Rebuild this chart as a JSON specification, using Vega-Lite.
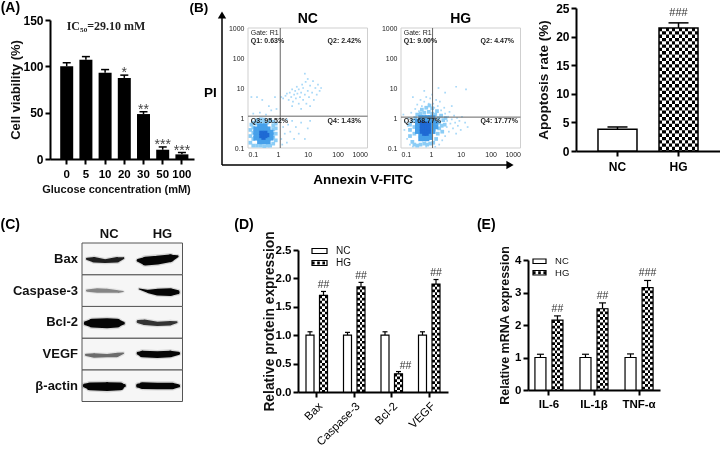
{"$schema":"https://vega.github.io/schema/vega-lite/v6.json","width":720,"height":449,"padding":0,"autosize":{"type":"none","contains":"padding"},"background":"white",
"config":{"view":{"stroke":null},"font":"Liberation Sans","text":{"font":"Liberation Sans"},"axis":{"grid":false,"domainColor":"black","domainWidth":2,"tickColor":"black","tickWidth":2,"tickSize":5,"labelColor":"black","labelFont":"Liberation Sans","labelFontWeight":"bold","labelFontSize":11.5,"labelPadding":2,"titleFont":"Liberation Sans","titleFontWeight":"bold","titleFontSize":14,"titleColor":"#111","labelOverlap":false}},
"resolve":{"scale":{"x":"independent","y":"independent","xOffset":"independent","color":"independent","size":"independent"},"axis":{"x":"independent","y":"independent"}},
"layer":[
{"data":{"values":[{"c":"0","v":100,"hi":104},{"c":"5","v":107,"hi":110.5},{"c":"10","v":93,"hi":96.5},{"c":"20","v":87.5,"hi":90.5,"s":"*"},{"c":"30","v":48.5,"hi":51,"s":"**"},{"c":"50","v":10,"hi":13,"s":"***"},{"c":"100","v":5,"hi":7,"s":"***"}]},
"encoding":{"x":{"field":"c","type":"nominal","sort":null,"scale":{"domain":["0","5","10","20","30","50","100"],"range":[50,194],"paddingInner":0.3,"paddingOuter":0.4,"align":0.65},"axis":{"orient":"bottom","offset":-290,"labelAngle":0,"labelPadding":4,"title":"Glucose concentration (mM)","titleFontSize":11,"titlePadding":4,"titleX":116}},"y":{"field":"v","type":"quantitative","scale":{"domain":[0,150],"range":[159,20],"nice":false},"axis":{"orient":"left","offset":-50,"values":[0,50,100,150],"title":"Cell viability (%)","titleFontSize":13,"titlePadding":0,"labelFontSize":12}}},
"layer":[
{"mark":{"type":"bar","size":13,"fill":"black"}},
{"mark":{"type":"rule","stroke":"black","strokeWidth":1.5},"encoding":{"y":{"field":"hi","type":"quantitative"},"y2":{"field":"v"}}},
{"mark":{"type":"tick","orient":"horizontal","size":8,"thickness":1.5,"color":"black","opacity":1},"encoding":{"y":{"field":"hi","type":"quantitative"}}},
{"mark":{"type":"text","fontSize":14,"fill":"#444","baseline":"alphabetic","dy":2},"encoding":{"y":{"field":"hi","type":"quantitative"},"text":{"field":"s"}},"transform":[{"filter":"datum.s"}]},
{"data":{"values":[{"c":"0","v":150,"t":"IC₅₀=29.10 mM"}]},"mark":{"type":"text","font":"Liberation Serif","fontWeight":"bold","fontSize":12,"align":"left","dy":6,"fill":"#222"},"encoding":{"text":{"field":"t"}}},
{"data":{"values":[{"c":"0","v":150,"t":"(A)"}]},"mark":{"type":"text","fontWeight":"bold","fontSize":14,"align":"left","dx":-66,"dy":-12,"fill":"black"},"encoding":{"text":{"field":"t"}}}
]},
{"data":{"values":[{"a":0,"b":0,"a2":1,"b2":0,"k":"h"},{"a":0,"b":0,"a2":0,"b2":1,"k":"v"}]},
"encoding":{"x":{"field":"a","type":"quantitative","scale":{"domain":[0,1],"range":[222,510],"nice":false},"axis":null},"y":{"field":"b","type":"quantitative","scale":{"domain":[0,1],"range":[165,15],"nice":false},"axis":null}},
"layer":[
{"mark":{"type":"rule","stroke":"black","strokeWidth":1.5},"encoding":{"x2":{"field":"a2"},"y2":{"field":"b2"}}},
{"data":{"values":[{"a":1,"b":0,"sh":"triangle-right"},{"a":0,"b":1,"sh":"triangle-up"}]},"mark":{"type":"point","filled":true,"fill":"black","opacity":1,"size":70},"encoding":{"shape":{"field":"sh","type":"nominal","scale":null}}},
{"data":{"values":[{"a":0.49,"b":-0.1,"t":"Annexin V-FITC"},{"a":-0.04,"b":0.48,"t":"PI"},{"a":-0.08,"b":1.05,"t":"(B)"}]},"mark":{"type":"text","fontWeight":"bold","fontSize":13.5,"fill":"black"},"encoding":{"text":{"field":"t"}}}
]},
{"data":{"values":[{"x":0.2,"y":5},{"x":0.13,"y":5},{"x":0.3,"y":4},{"x":0.5,"y":2.5},{"x":0.6,"y":1.8},{"x":0.8,"y":5},{"x":0.25,"y":1.5},{"x":0.15,"y":1.4},{"x":0.4,"y":1.3},{"x":0.9,"y":2},{"x":1.3,"y":5},{"x":1.5,"y":4.5},{"x":1.8,"y":5.5},{"x":2,"y":6.5},{"x":2.3,"y":4},{"x":2.5,"y":7},{"x":2.8,"y":5},{"x":3,"y":9},{"x":3.2,"y":3.5},{"x":3.5,"y":6},{"x":3.8,"y":8},{"x":4,"y":4.5},{"x":4.3,"y":11},{"x":4.5,"y":6.5},{"x":5,"y":3},{"x":5,"y":9},{"x":5.5,"y":5},{"x":6,"y":7},{"x":6.5,"y":13},{"x":7,"y":4},{"x":7,"y":10},{"x":8,"y":6},{"x":8.5,"y":16},{"x":9,"y":3},{"x":10,"y":8},{"x":10,"y":20},{"x":11,"y":5},{"x":12,"y":12},{"x":14,"y":7},{"x":15,"y":17},{"x":16,"y":4},{"x":18,"y":10},{"x":20,"y":6},{"x":22,"y":13},{"x":25,"y":8},{"x":28,"y":10},{"x":8,"y":30},{"x":3,"y":2.5},{"x":6,"y":2},{"x":12,"y":2.5},{"x":1.3,"y":0.2},{"x":1.5,"y":0.5},{"x":1.7,"y":0.3},{"x":2,"y":0.15},{"x":2.2,"y":0.6},{"x":2.6,"y":0.35},{"x":3,"y":0.8},{"x":3.5,"y":0.2},{"x":4,"y":0.5},{"x":5,"y":0.3},{"x":6,"y":0.7},{"x":8,"y":0.2},{"x":10,"y":0.45},{"x":12,"y":0.8},{"x":1.2,"y":0.8},{"x":1.4,"y":0.13},{"x":2,"y":0.9}]},
"encoding":{"x":{"field":"x","type":"quantitative","scale":{"type":"log","domain":[0.1,1000],"range":[248,367.5],"nice":false},"axis":{"orient":"bottom","offset":-301,"values":[0.1,1,10,100,1000],"labelExpr":"''+datum.value","domain":false,"ticks":false,"labelFontSize":7,"labelFontWeight":"normal","labelColor":"#222","labelPadding":2,"title":null}},"y":{"field":"y","type":"quantitative","scale":{"type":"log","domain":[0.1,1000],"range":[148,28],"nice":false},"axis":{"orient":"left","offset":-248,"values":[0.1,1,10,100,1000],"labelExpr":"''+datum.value","domain":false,"ticks":false,"labelFontSize":7,"labelFontWeight":"normal","labelColor":"#222","labelPadding":4,"title":null}}},
"layer":[
{"data":{"values":[{"x":0.1,"x2":1000,"y":0.1,"y2":1000}]},"mark":{"type":"rect","fill":"white","stroke":"#cfcfcf","strokeWidth":1},"encoding":{"x2":{"field":"x2"},"y2":{"field":"y2"}}},
{"mark":{"type":"point","filled":true,"shape":"square","size":3,"color":"#a9d9f8","opacity":1}},
{"data":{"values":[{"x":0.12,"y":0.15},{"x":0.12,"y":0.25},{"x":0.12,"y":0.4},{"x":0.13,"y":0.6},{"x":0.15,"y":0.12},{"x":0.15,"y":0.2},{"x":0.15,"y":0.32},{"x":0.15,"y":0.48},{"x":0.15,"y":0.7},{"x":0.2,"y":0.12},{"x":0.2,"y":0.65},{"x":0.2,"y":0.85},{"x":0.27,"y":0.12},{"x":0.27,"y":0.7},{"x":0.27,"y":0.9},{"x":0.35,"y":0.115},{"x":0.35,"y":0.7},{"x":0.35,"y":0.88},{"x":0.45,"y":0.12},{"x":0.45,"y":0.7},{"x":0.55,"y":0.12},{"x":0.55,"y":0.85},{"x":0.7,"y":0.14},{"x":0.7,"y":0.22},{"x":0.7,"y":0.3},{"x":0.7,"y":0.42},{"x":0.7,"y":0.55},{"x":0.7,"y":0.75},{"x":0.85,"y":0.18},{"x":0.85,"y":0.3},{"x":0.85,"y":0.45},{"x":0.85,"y":0.65}]},"mark":{"type":"point","filled":true,"shape":"square","size":14,"color":"#8ccdf6","opacity":1}},
{"data":{"values":[{"x":0.18,"y":0.21},{"x":0.18,"y":0.27},{"x":0.18,"y":0.34},{"x":0.18,"y":0.44},{"x":0.24,"y":0.16},{"x":0.24,"y":0.21},{"x":0.24,"y":0.27},{"x":0.24,"y":0.34},{"x":0.24,"y":0.44},{"x":0.24,"y":0.55},{"x":0.3,"y":0.16},{"x":0.3,"y":0.21},{"x":0.3,"y":0.27},{"x":0.3,"y":0.34},{"x":0.3,"y":0.44},{"x":0.3,"y":0.55},{"x":0.38,"y":0.16},{"x":0.38,"y":0.21},{"x":0.38,"y":0.27},{"x":0.38,"y":0.34},{"x":0.38,"y":0.44},{"x":0.38,"y":0.55},{"x":0.48,"y":0.16},{"x":0.48,"y":0.21},{"x":0.48,"y":0.27},{"x":0.48,"y":0.34},{"x":0.48,"y":0.44},{"x":0.6,"y":0.21},{"x":0.6,"y":0.27},{"x":0.6,"y":0.34}]},"mark":{"type":"point","filled":true,"shape":"square","size":20,"color":"#46a0ea","opacity":1}},
{"data":{"values":[{"x":0.28,"y":0.25},{"x":0.33,"y":0.22},{"x":0.33,"y":0.29},{"x":0.38,"y":0.25},{"x":0.38,"y":0.32},{"x":0.44,"y":0.27},{"x":0.28,"y":0.32}]},"mark":{"type":"point","filled":true,"shape":"square","size":18,"color":"#1f6ad4","opacity":1}},
{"data":{"values":[{"x":1.2,"x2":1.2,"y":0.1,"y2":1000},{"x":0.1,"x2":1000,"y":1.15,"y2":1.15}]},"mark":{"type":"rule","stroke":"#666","strokeWidth":1},"encoding":{"x2":{"field":"x2"},"y2":{"field":"y2"}}},
{"data":{"values":[{"x":0.123,"y":700,"t":"Gate: R1"}]},"mark":{"type":"text","fontSize":7,"align":"left","fill":"#222"},"encoding":{"text":{"field":"t"}}},
{"data":{"values":[{"x":0.123,"y":380,"t":"Q1: 0.63%"},{"x":46,"y":380,"t":"Q2: 2.42%"},{"x":0.123,"y":0.81,"t":"Q3: 95.52%"},{"x":46,"y":0.81,"t":"Q4: 1.43%"}]},"mark":{"type":"text","fontSize":7,"fontWeight":"bold","align":"left","fill":"#222"},"encoding":{"text":{"field":"t"}}},
{"data":{"values":[{"x":10,"y":2000,"t":"NC"}]},"mark":{"type":"text","fontSize":14,"fontWeight":"bold","fill":"black"},"encoding":{"text":{"field":"t"}}}
]},
{"data":{"values":[{"x":0.12,"y":1.3},{"x":0.14,"y":0.75},{"x":0.16,"y":0.2},{"x":0.13,"y":0.4},{"x":0.18,"y":1},{"x":0.2,"y":0.13},{"x":0.22,"y":1.5},{"x":0.17,"y":0.55},{"x":0.3,"y":2},{"x":0.25,"y":0.11},{"x":0.35,"y":2.8},{"x":0.4,"y":1.7},{"x":0.45,"y":4},{"x":0.5,"y":2.5},{"x":0.6,"y":3.5},{"x":0.7,"y":5},{"x":0.7,"y":0.11},{"x":0.85,"y":3},{"x":0.95,"y":4.5},{"x":1.1,"y":6},{"x":1.2,"y":3},{"x":1.3,"y":2.2},{"x":1.4,"y":0.11},{"x":1.5,"y":4},{"x":1.7,"y":2.5},{"x":1.9,"y":0.13},{"x":2,"y":3.5},{"x":2.2,"y":1.8},{"x":2.4,"y":0.18},{"x":2.8,"y":2.2},{"x":3,"y":0.25},{"x":3,"y":1.4},{"x":3.4,"y":0.5},{"x":3.5,"y":0.8},{"x":3.8,"y":1.1},{"x":4,"y":0.35},{"x":4.2,"y":1.6},{"x":4.5,"y":0.65},{"x":5,"y":0.9},{"x":5,"y":2.5},{"x":5.5,"y":0.45},{"x":6,"y":1.2},{"x":6.5,"y":0.7},{"x":7,"y":0.3},{"x":7.5,"y":1},{"x":8,"y":0.55},{"x":9,"y":0.8},{"x":10,"y":0.4},{"x":11,"y":1.1},{"x":14,"y":0.7},{"x":17,"y":0.5},{"x":15,"y":9},{"x":7,"y":11},{"x":3,"y":7},{"x":0.6,"y":8},{"x":1.8,"y":10},{"x":0.25,"y":5}]},
"encoding":{"x":{"field":"x","type":"quantitative","scale":{"type":"log","domain":[0.1,1000],"range":[401,520.5],"nice":false},"axis":{"orient":"bottom","offset":-301,"values":[0.1,1,10,100,1000],"labelExpr":"''+datum.value","domain":false,"ticks":false,"labelFontSize":7,"labelFontWeight":"normal","labelColor":"#222","labelPadding":2,"title":null}},"y":{"field":"y","type":"quantitative","scale":{"type":"log","domain":[0.1,1000],"range":[148,28],"nice":false},"axis":{"orient":"left","offset":-401,"values":[0.1,1,10,100,1000],"labelExpr":"''+datum.value","domain":false,"ticks":false,"labelFontSize":7,"labelFontWeight":"normal","labelColor":"#222","labelPadding":4,"title":null}}},
"layer":[
{"data":{"values":[{"x":0.1,"x2":1000,"y":0.1,"y2":1000}]},"mark":{"type":"rect","fill":"white","stroke":"#cfcfcf","strokeWidth":1},"encoding":{"x2":{"field":"x2"},"y2":{"field":"y2"}}},
{"mark":{"type":"point","filled":true,"shape":"square","size":3,"color":"#a9d9f8","opacity":1}},
{"data":{"values":[{"x":0.2,"y":0.25},{"x":0.2,"y":0.4},{"x":0.2,"y":0.6},{"x":0.24,"y":0.16},{"x":0.25,"y":0.8},{"x":0.28,"y":0.13},{"x":0.28,"y":0.3},{"x":0.28,"y":0.5},{"x":0.3,"y":1},{"x":0.35,"y":0.12},{"x":0.35,"y":1.3},{"x":0.45,"y":0.13},{"x":0.45,"y":1.4},{"x":0.5,"y":1.9},{"x":0.6,"y":0.14},{"x":0.6,"y":1.5},{"x":0.7,"y":2.2},{"x":0.75,"y":0.13},{"x":0.85,"y":1.6},{"x":0.9,"y":2.6},{"x":0.95,"y":0.14},{"x":1.1,"y":1.4},{"x":1.1,"y":2.1},{"x":1.2,"y":0.15},{"x":1.4,"y":1.3},{"x":1.5,"y":0.2},{"x":1.6,"y":1.7},{"x":1.7,"y":0.3},{"x":1.8,"y":1},{"x":1.9,"y":0.45},{"x":1.9,"y":0.7},{"x":2.2,"y":1.2},{"x":2.3,"y":0.55},{"x":2.4,"y":0.35},{"x":2.6,"y":0.85},{"x":2.9,"y":0.6},{"x":3.1,"y":1}]},"mark":{"type":"point","filled":true,"shape":"square","size":14,"color":"#8ccdf6","opacity":1}},
{"data":{"values":[{"x":0.35,"y":0.35},{"x":0.35,"y":0.45},{"x":0.35,"y":0.6},{"x":0.35,"y":0.8},{"x":0.45,"y":0.2},{"x":0.45,"y":0.27},{"x":0.45,"y":0.35},{"x":0.45,"y":0.45},{"x":0.45,"y":0.6},{"x":0.45,"y":0.8},{"x":0.45,"y":1.05},{"x":0.6,"y":0.2},{"x":0.6,"y":0.27},{"x":0.6,"y":0.35},{"x":0.6,"y":0.45},{"x":0.6,"y":0.6},{"x":0.6,"y":0.8},{"x":0.6,"y":1.05},{"x":0.75,"y":0.2},{"x":0.75,"y":0.27},{"x":0.75,"y":0.35},{"x":0.75,"y":0.45},{"x":0.75,"y":0.6},{"x":0.75,"y":0.8},{"x":0.75,"y":1.05},{"x":0.95,"y":0.22},{"x":0.95,"y":0.27},{"x":0.95,"y":0.35},{"x":0.95,"y":0.45},{"x":0.95,"y":0.6},{"x":0.95,"y":0.8},{"x":0.95,"y":1.05},{"x":1.2,"y":0.35},{"x":1.2,"y":0.45},{"x":1.2,"y":0.6},{"x":1.2,"y":0.8},{"x":1.2,"y":1.05},{"x":1.5,"y":0.5},{"x":1.5,"y":0.7}]},"mark":{"type":"point","filled":true,"shape":"square","size":20,"color":"#46a0ea","opacity":1}},
{"data":{"values":[{"x":0.5,"y":0.35},{"x":0.5,"y":0.45},{"x":0.5,"y":0.55},{"x":0.5,"y":0.7},{"x":0.6,"y":0.3},{"x":0.6,"y":0.4},{"x":0.6,"y":0.5},{"x":0.6,"y":0.65},{"x":0.72,"y":0.3},{"x":0.72,"y":0.4},{"x":0.72,"y":0.5},{"x":0.72,"y":0.65},{"x":0.85,"y":0.35},{"x":0.85,"y":0.45},{"x":0.85,"y":0.6}]},"mark":{"type":"point","filled":true,"shape":"square","size":18,"color":"#1f6ad4","opacity":1}},
{"data":{"values":[{"x":1.14,"x2":1.14,"y":0.1,"y2":1000},{"x":0.1,"x2":1000,"y":1.07,"y2":1.07}]},"mark":{"type":"rule","stroke":"#666","strokeWidth":1},"encoding":{"x2":{"field":"x2"},"y2":{"field":"y2"}}},
{"data":{"values":[{"x":0.123,"y":700,"t":"Gate: R1"}]},"mark":{"type":"text","fontSize":7,"align":"left","fill":"#222"},"encoding":{"text":{"field":"t"}}},
{"data":{"values":[{"x":0.123,"y":380,"t":"Q1: 9.00%"},{"x":46,"y":380,"t":"Q2: 4.47%"},{"x":0.123,"y":0.78,"t":"Q3: 68.77%"},{"x":46,"y":0.78,"t":"Q4: 17.77%"}]},"mark":{"type":"text","fontSize":7,"fontWeight":"bold","align":"left","fill":"#222"},"encoding":{"text":{"field":"t"}}},
{"data":{"values":[{"x":10,"y":2000,"t":"HG"}]},"mark":{"type":"text","fontSize":14,"fontWeight":"bold","fill":"black"},"encoding":{"text":{"field":"t"}}}
]},
{"data":{"values":[{"g":"NC","v":3.8,"hi":4.2},{"g":"HG","v":21.5,"hi":22.4,"h":"###"}]},
"encoding":{"x":{"field":"g","type":"nominal","sort":null,"scale":{"domain":["NC","HG"],"range":[576,720],"paddingInner":0.34,"paddingOuter":0.35},"axis":{"orient":"bottom","offset":-298,"labelAngle":0,"title":null,"labelFontSize":12,"labelPadding":5}},"y":{"field":"v","type":"quantitative","scale":{"domain":[0,25],"range":[151,8],"nice":false},"axis":{"orient":"left","offset":-576,"values":[0,5,10,15,20,25],"title":"Apoptosis rate (%)","titleFontSize":13.5,"titlePadding":5,"labelFontSize":12}}},
"layer":[
{"mark":{"type":"rule","stroke":"black","strokeWidth":1.5},"encoding":{"y":{"field":"hi","type":"quantitative"},"y2":{"field":"v"}}},
{"mark":{"type":"tick","orient":"horizontal","size":20,"thickness":1.5,"color":"black","opacity":1},"encoding":{"y":{"field":"hi","type":"quantitative"}}},
{"mark":{"type":"bar","size":39,"fill":"white","stroke":null}},
{"transform":[{"filter":"datum.g=='HG'"}],"mark":{"type":"rule","stroke":"black","strokeWidth":39,"strokeDash":[3.3,3.3],"strokeCap":"butt"},"encoding":{"y2":{"datum":0}}},
{"transform":[{"filter":"datum.g=='HG'"}],"mark":{"type":"bar","size":39,"stroke":null,"blend":"difference","fill":{"gradient":"linear","x1":0,"y1":0,"x2":1,"y2":0,"stops":[{"offset":0,"color":"#000"},{"offset":0.0833,"color":"#000"},{"offset":0.0833,"color":"#fff"},{"offset":0.1667,"color":"#fff"},{"offset":0.1667,"color":"#000"},{"offset":0.25,"color":"#000"},{"offset":0.25,"color":"#fff"},{"offset":0.3333,"color":"#fff"},{"offset":0.3333,"color":"#000"},{"offset":0.4167,"color":"#000"},{"offset":0.4167,"color":"#fff"},{"offset":0.5,"color":"#fff"},{"offset":0.5,"color":"#000"},{"offset":0.5833,"color":"#000"},{"offset":0.5833,"color":"#fff"},{"offset":0.6667,"color":"#fff"},{"offset":0.6667,"color":"#000"},{"offset":0.75,"color":"#000"},{"offset":0.75,"color":"#fff"},{"offset":0.8333,"color":"#fff"},{"offset":0.8333,"color":"#000"},{"offset":0.9167,"color":"#000"},{"offset":0.9167,"color":"#fff"},{"offset":1,"color":"#fff"}]}}},
{"mark":{"type":"bar","size":39,"fill":"transparent","stroke":"black","strokeWidth":1.5}},
{"transform":[{"filter":"datum.h"}],"mark":{"type":"text","fontSize":11,"fill":"#333","dy":-9.5},"encoding":{"y":{"field":"hi","type":"quantitative"},"text":{"field":"h"}}}
]},
{"data":{"values":[{"a":0,"a2":100,"b":0,"b2":1,"t":"β-actin"},{"a":0,"a2":100,"b":1,"b2":2,"t":"VEGF"},{"a":0,"a2":100,"b":2,"b2":3,"t":"Bcl-2"},{"a":0,"a2":100,"b":3,"b2":4,"t":"Caspase-3"},{"a":0,"a2":100,"b":4,"b2":5,"t":"Bax"}]},
"encoding":{"x":{"field":"a","type":"quantitative","scale":{"domain":[0,100],"range":[82,182.5],"nice":false},"axis":null},"y":{"field":"b","type":"quantitative","scale":{"domain":[0,5],"range":[401.5,243],"nice":false},"axis":null}},
"layer":[
{"mark":{"type":"rect","fill":"#f6f6f6","stroke":"#555","strokeWidth":1},"encoding":{"x2":{"field":"a2"},"y2":{"field":"b2"}}},
{"data":{"values":[{"k":"a","a":5,"b":4.5,"w":2,"i":0.9},{"k":"a","a":12,"b":4.47,"w":5,"i":0.9},{"k":"a","a":23,"b":4.43,"w":3.5,"i":0.9},{"k":"a","a":35,"b":4.47,"w":5,"i":0.9},{"k":"a","a":41,"b":4.52,"w":2,"i":0.9},
{"k":"b","a":56,"b":4.45,"w":3,"i":1},{"k":"b","a":63,"b":4.43,"w":8,"i":1},{"k":"b","a":75,"b":4.46,"w":8,"i":1},{"k":"b","a":88,"b":4.52,"w":7,"i":1},{"k":"b","a":95,"b":4.58,"w":2,"i":1},
{"k":"c","a":5,"b":3.5,"w":2,"i":0.45},{"k":"c","a":15,"b":3.5,"w":4,"i":0.45},{"k":"c","a":25,"b":3.5,"w":3.5,"i":0.45},{"k":"c","a":36,"b":3.47,"w":2.5,"i":0.45},{"k":"c","a":41,"b":3.47,"w":1,"i":0.45},
{"k":"d","a":57,"b":3.55,"w":1,"i":1},{"k":"d","a":66,"b":3.47,"w":3,"i":1},{"k":"d","a":75,"b":3.45,"w":6,"i":1},{"k":"d","a":88,"b":3.45,"w":7,"i":1},{"k":"d","a":95,"b":3.45,"w":4,"i":1},
{"k":"e","a":4,"b":2.47,"w":4,"i":1},{"k":"e","a":10,"b":2.47,"w":8,"i":1},{"k":"e","a":25,"b":2.47,"w":9,"i":1},{"k":"e","a":35,"b":2.47,"w":8,"i":1},{"k":"e","a":41,"b":2.47,"w":3,"i":1},
{"k":"f","a":56,"b":2.52,"w":3,"i":0.8},{"k":"f","a":62,"b":2.5,"w":5,"i":0.8},{"k":"f","a":75,"b":2.45,"w":4,"i":0.8},{"k":"f","a":88,"b":2.47,"w":4,"i":0.8},{"k":"f","a":94,"b":2.5,"w":2,"i":0.8},
{"k":"g","a":4,"b":1.47,"w":2,"i":0.55},{"k":"g","a":12,"b":1.45,"w":4,"i":0.55},{"k":"g","a":25,"b":1.45,"w":3,"i":0.55},{"k":"g","a":35,"b":1.47,"w":4,"i":0.55},{"k":"g","a":41,"b":1.52,"w":1.5,"i":0.55},
{"k":"h","a":56,"b":1.52,"w":3,"i":1},{"k":"h","a":60,"b":1.5,"w":6,"i":1},{"k":"h","a":75,"b":1.48,"w":6,"i":1},{"k":"h","a":88,"b":1.5,"w":6,"i":1},{"k":"h","a":96,"b":1.52,"w":3,"i":1},
{"k":"m","a":3,"b":0.5,"w":4,"i":1},{"k":"m","a":8,"b":0.48,"w":7,"i":1},{"k":"m","a":25,"b":0.47,"w":8,"i":1},{"k":"m","a":38,"b":0.48,"w":7,"i":1},{"k":"m","a":42,"b":0.5,"w":3,"i":1},
{"k":"n","a":56,"b":0.5,"w":4,"i":1},{"k":"n","a":60,"b":0.5,"w":6,"i":1},{"k":"n","a":75,"b":0.49,"w":6,"i":1},{"k":"n","a":90,"b":0.49,"w":6,"i":1},{"k":"n","a":96,"b":0.49,"w":3,"i":1}]},
"resolve":{"scale":{"size":"independent"}},
"encoding":{"detail":{"field":"k"},"order":{"field":"a","type":"quantitative"},"color":{"field":"i","type":"quantitative","legend":null,"scale":{"domain":[0,1],"range":["#ffffff","#050505"]}}},
"layer":[
{"mark":{"type":"trail","opacity":0.14},"encoding":{"size":{"field":"w","type":"quantitative","legend":null,"scale":{"domain":[0,10],"range":[2,14]}}}},
{"mark":{"type":"trail"},"encoding":{"size":{"field":"w","type":"quantitative","legend":null,"scale":{"domain":[0,10],"range":[0,11]}}}}
]},
{"data":{"values":[{"a":-4,"b":4.5,"t":"Bax"},{"a":-4,"b":3.5,"t":"Caspase-3"},{"a":-4,"b":2.5,"t":"Bcl-2"},{"a":-4,"b":1.5,"t":"VEGF"},{"a":-4,"b":0.5,"t":"β-actin"}]},"mark":{"type":"text","fontSize":13,"fontWeight":"bold","align":"right","fill":"#111"},"encoding":{"text":{"field":"t"}}},
{"data":{"values":[{"a":27,"b":5.28,"t":"NC"},{"a":80,"b":5.28,"t":"HG"}]},"mark":{"type":"text","fontSize":13,"fontWeight":"bold","fill":"#111"},"encoding":{"text":{"field":"t"}}},
{"data":{"values":[{"a":-81,"b":5.57,"t":"(C)"}]},"mark":{"type":"text","fontSize":14,"fontWeight":"bold","align":"left","fill":"black"},"encoding":{"text":{"field":"t"}}}
]},
{"data":{"values":[{"g":"Bax","s":"NC","v":1,"hi":1.06},{"g":"Bax","s":"HG","v":1.7,"hi":1.77,"h":"##"},{"g":"Caspase-3","s":"NC","v":1,"hi":1.05},{"g":"Caspase-3","s":"HG","v":1.85,"hi":1.93,"h":"##"},{"g":"Bcl-2","s":"NC","v":1,"hi":1.06},{"g":"Bcl-2","s":"HG","v":0.32,"hi":0.36,"j":"##"},{"g":"VEGF","s":"NC","v":1,"hi":1.06},{"g":"VEGF","s":"HG","v":1.9,"hi":1.98,"h":"##"}]},
"encoding":{"x":{"field":"g","type":"nominal","sort":null,"scale":{"domain":["Bax","Caspase-3","Bcl-2","VEGF"],"range":[298,448],"paddingInner":0.28,"paddingOuter":0.14},"axis":{"orient":"bottom","offset":-57,"labelAngle":-45,"labelAlign":"right","labelBaseline":"top","labelFontSize":11.5,"labelFontWeight":"normal","title":null,"labelPadding":3}},"xOffset":{"field":"s","type":"nominal","sort":null,"scale":{"domain":["NC","HG"]}},"y":{"field":"v","type":"quantitative","scale":{"domain":[0,2.5],"range":[392,250],"nice":false},"axis":{"orient":"left","offset":-298,"values":[0,0.5,1,1.5,2,2.5],"format":".1f","title":"Relative protein expression","titleFontSize":13.8,"titlePadding":-1,"labelFontSize":11.5}}},
"layer":[
{"mark":{"type":"rule","stroke":"black","strokeWidth":1.2},"encoding":{"y":{"field":"hi","type":"quantitative"},"y2":{"field":"v"}}},
{"mark":{"type":"tick","orient":"horizontal","size":5,"thickness":1.2,"color":"black","opacity":1},"encoding":{"y":{"field":"hi","type":"quantitative"}}},
{"mark":{"type":"bar","size":8,"fill":"white","stroke":null}},
{"transform":[{"filter":"datum.s=='HG'"}],"mark":{"type":"rule","stroke":"black","strokeWidth":8,"strokeDash":[2.7,2.7],"strokeCap":"butt"},"encoding":{"y2":{"datum":0}}},
{"transform":[{"filter":"datum.s=='HG'"}],"mark":{"type":"bar","size":8,"stroke":null,"blend":"difference","fill":{"gradient":"linear","x1":0,"y1":0,"x2":1,"y2":0,"stops":[{"offset":0,"color":"#000"},{"offset":0.333,"color":"#000"},{"offset":0.333,"color":"#fff"},{"offset":0.667,"color":"#fff"},{"offset":0.667,"color":"#000"},{"offset":1,"color":"#000"}]}}},
{"mark":{"type":"bar","size":8,"fill":"transparent","stroke":"black","strokeWidth":1.2}},
{"transform":[{"filter":"datum.h"}],"mark":{"type":"text","fontSize":10.5,"fill":"#333","dy":-6.5},"encoding":{"y":{"field":"hi","type":"quantitative"},"text":{"field":"h"}}},
{"transform":[{"filter":"datum.j"}],"mark":{"type":"text","fontSize":10.5,"fill":"#333","dy":-5.5,"dx":7},"encoding":{"y":{"field":"hi","type":"quantitative"},"text":{"field":"j"}}},
{"data":{"values":[{"g":"Bax","v":2.5,"t":"(D)"}]},"mark":{"type":"text","fontSize":14,"fontWeight":"bold","align":"left","dx":-69,"dy":-25,"fill":"black"},"encoding":{"xOffset":{"value":0},"text":{"field":"t"}}}
]},
{"data":{"values":[{"s":"NC","a":0,"b":1},{"s":"HG","a":0,"b":1}]},
"encoding":{"x":{"field":"a","type":"quantitative","scale":{"domain":[0,1],"range":[312,327],"nice":false},"axis":null},"y":{"field":"s","type":"nominal","sort":null,"scale":{"domain":["NC","HG"],"range":[245,269]},"axis":null}},
"layer":[
{"mark":{"type":"bar","size":5,"fill":"white","stroke":"black","strokeWidth":1.2},"encoding":{"x2":{"field":"b"}}},
{"transform":[{"filter":"datum.s=='HG'"}],"mark":{"type":"rule","stroke":"black","strokeWidth":3,"strokeDash":[2.6,2.6],"strokeCap":"butt"},"encoding":{"x2":{"field":"b"}}},
{"data":{"values":[{"s":"NC","a":1.6},{"s":"HG","a":1.6}]},"mark":{"type":"text","fontSize":10,"align":"left","fill":"#111"},"encoding":{"text":{"field":"s"}}}
]},
{"data":{"values":[{"g":"IL-6","s":"NC","v":1,"hi":1.1},{"g":"IL-6","s":"HG","v":2.15,"hi":2.28,"h":"##"},{"g":"IL-1β","s":"NC","v":1,"hi":1.1},{"g":"IL-1β","s":"HG","v":2.5,"hi":2.68,"h":"##"},{"g":"TNF-α","s":"NC","v":1,"hi":1.11},{"g":"TNF-α","s":"HG","v":3.15,"hi":3.37,"h":"###"}]},
"encoding":{"x":{"field":"g","type":"nominal","sort":null,"scale":{"domain":["IL-6","IL-1β","TNF-α"],"range":[528,660],"paddingInner":0.244,"paddingOuter":0.087},"axis":{"orient":"bottom","offset":-59,"labelAngle":0,"title":null,"labelFontSize":11.5,"labelPadding":3}},"xOffset":{"field":"s","type":"nominal","sort":null,"scale":{"domain":["NC","HG"]}},"y":{"field":"v","type":"quantitative","scale":{"domain":[0,4],"range":[390,260],"nice":false},"axis":{"orient":"left","offset":-528,"values":[0,1,2,3,4],"title":"Relative mRNA expression","titleFontSize":12.5,"titlePadding":3,"labelFontSize":11.5}}},
"layer":[
{"mark":{"type":"rule","stroke":"black","strokeWidth":1.2},"encoding":{"y":{"field":"hi","type":"quantitative"},"y2":{"field":"v"}}},
{"mark":{"type":"tick","orient":"horizontal","size":7,"thickness":1.2,"color":"black","opacity":1},"encoding":{"y":{"field":"hi","type":"quantitative"}}},
{"mark":{"type":"bar","size":11,"fill":"white","stroke":null}},
{"transform":[{"filter":"datum.s=='HG'"}],"mark":{"type":"rule","stroke":"black","strokeWidth":11,"strokeDash":[2.75,2.75],"strokeCap":"butt"},"encoding":{"y2":{"datum":0}}},
{"transform":[{"filter":"datum.s=='HG'"}],"mark":{"type":"bar","size":11,"stroke":null,"blend":"difference","fill":{"gradient":"linear","x1":0,"y1":0,"x2":1,"y2":0,"stops":[{"offset":0,"color":"#000"},{"offset":0.25,"color":"#000"},{"offset":0.25,"color":"#fff"},{"offset":0.5,"color":"#fff"},{"offset":0.5,"color":"#000"},{"offset":0.75,"color":"#000"},{"offset":0.75,"color":"#fff"},{"offset":1,"color":"#fff"}]}}},
{"mark":{"type":"bar","size":11,"fill":"transparent","stroke":"black","strokeWidth":1.2}},
{"transform":[{"filter":"datum.h"}],"mark":{"type":"text","fontSize":10.5,"fill":"#333","dy":-7},"encoding":{"y":{"field":"hi","type":"quantitative"},"text":{"field":"h"}}},
{"data":{"values":[{"g":"IL-6","v":4,"t":"(E)"}]},"mark":{"type":"text","fontSize":14,"fontWeight":"bold","align":"left","dx":-55,"dy":-35,"fill":"black"},"encoding":{"xOffset":{"value":0},"text":{"field":"t"}}}
]},
{"data":{"values":[{"s":"NC","a":0,"b":1},{"s":"HG","a":0,"b":1}]},
"encoding":{"x":{"field":"a","type":"quantitative","scale":{"domain":[0,1],"range":[533,546],"nice":false},"axis":null},"y":{"field":"s","type":"nominal","sort":null,"scale":{"domain":["NC","HG"],"range":[255.5,278.5]},"axis":null}},
"layer":[
{"mark":{"type":"bar","size":4.5,"fill":"white","stroke":"black","strokeWidth":1.2},"encoding":{"x2":{"field":"b"}}},
{"transform":[{"filter":"datum.s=='HG'"}],"mark":{"type":"rule","stroke":"black","strokeWidth":3,"strokeDash":[2.6,2.6],"strokeCap":"butt"},"encoding":{"x2":{"field":"b"}}},
{"data":{"values":[{"s":"NC","a":1.7},{"s":"HG","a":1.7}]},"mark":{"type":"text","fontSize":9.5,"align":"left","fill":"#111"},"encoding":{"text":{"field":"s"}}}
]}
]}
